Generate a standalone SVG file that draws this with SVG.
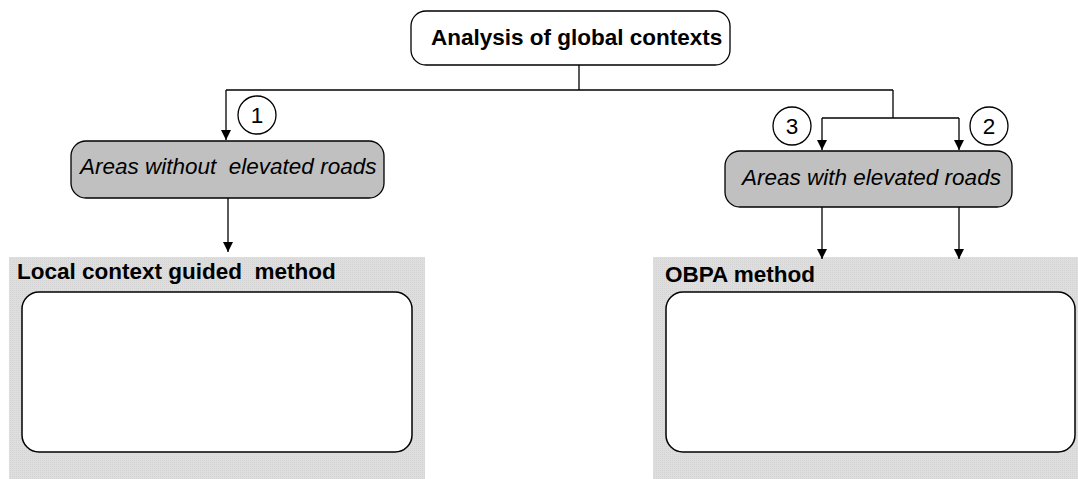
<svg xmlns="http://www.w3.org/2000/svg" width="1078" height="479" viewBox="0 0 1078 479">
<style>
.panel{fill:#dcdcdc;stroke:none}
.inner{fill:#ffffff;stroke:#000;stroke-width:1.5}
.box{fill:#ffffff;stroke:#000;stroke-width:1.3}
.grey{fill:#c0c0c0;stroke:#000;stroke-width:1.3}
.circ{fill:#ffffff;stroke:#000;stroke-width:1.3}
.conn{fill:none;stroke:#000;stroke-width:1.3}
text{white-space:pre}
.bold{font-family:"Liberation Sans",Arial,sans-serif;font-weight:bold;font-size:22.5px;fill:#000}
.ital{font-family:"Liberation Sans",Arial,sans-serif;font-style:italic;font-size:22.5px;fill:#000}
.num{font-family:"Liberation Sans",Arial,sans-serif;font-size:22.5px;fill:#000;text-anchor:middle}
</style>
<defs>
<pattern id="tex" width="2" height="2" patternUnits="userSpaceOnUse">
<rect width="2" height="2" fill="#dedede"/>
<rect width="1" height="1" fill="#d4d4d4"/>
</pattern>
<marker id="arr" markerWidth="10" markerHeight="12" refX="10" refY="5" orient="auto" markerUnits="userSpaceOnUse">
<path d="M0,0 L10,5 L0,10 Z" fill="#000"/>
</marker>
</defs>

<g id="panel-local">
<rect x="9" y="257" width="416" height="222" fill="url(#tex)"/>
<text class="bold" x="17" y="279" xml:space="preserve">Local context guided  method</text>
<rect class="inner" x="22" y="292" width="390" height="160" rx="17" ry="17"/>
</g>

<g id="panel-obpa">
<rect x="653" y="257" width="425" height="222" fill="url(#tex)"/>
<text class="bold" x="665" y="282">OBPA method</text>
<rect class="inner" x="666" y="292" width="409" height="160" rx="17" ry="17"/>
</g>

<g id="node-global">
<rect class="box" x="411" y="11" width="319" height="54" rx="15" ry="15"/>
<text class="bold" x="431" y="45">Analysis of global contexts</text>
</g>

<g id="node-without">
<rect class="grey" x="71" y="141" width="313" height="57" rx="15" ry="15"/>
<text class="ital" x="80" y="174" xml:space="preserve">Areas without  elevated roads</text>
</g>

<g id="node-with">
<rect class="grey" x="725" y="151" width="287" height="56" rx="15" ry="15"/>
<text class="ital" x="742" y="185">Areas with elevated roads</text>
</g>

<g id="connectors">
<path class="conn" d="M579,65 V90"/>
<path class="conn" d="M226,90 H893"/>
<path class="conn" d="M226,90 V140" marker-end="url(#arr)"/>
<path class="conn" d="M893,90 V118"/>
<path class="conn" d="M822,118 H959"/>
<path class="conn" d="M822,118 V150" marker-end="url(#arr)"/>
<path class="conn" d="M959,118 V150" marker-end="url(#arr)"/>
<path class="conn" d="M228,198 V252" marker-end="url(#arr)"/>
<path class="conn" d="M822,207 V259" marker-end="url(#arr)"/>
<path class="conn" d="M959,207 V259" marker-end="url(#arr)"/>
</g>

<g id="label-1">
<circle class="circ" cx="257" cy="115" r="19"/>
<text class="num" x="257" y="123">1</text>
</g>
<g id="label-3">
<circle class="circ" cx="792" cy="126" r="19"/>
<text class="num" x="792" y="134">3</text>
</g>
<g id="label-2">
<circle class="circ" cx="989" cy="126" r="19"/>
<text class="num" x="989" y="134">2</text>
</g>
</svg>
